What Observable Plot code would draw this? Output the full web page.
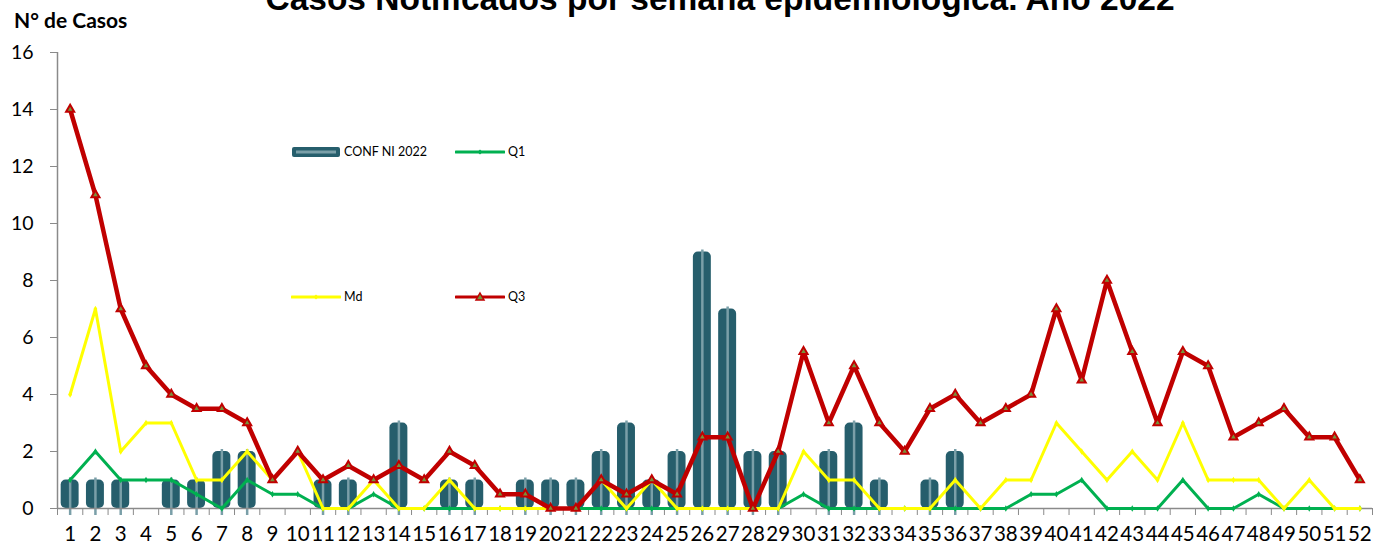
<!DOCTYPE html>
<html>
<head>
<meta charset="utf-8">
<script src="https://cdn.jsdelivr.net/npm/d3@7"></script>
<script src="https://cdn.jsdelivr.net/npm/@observablehq/plot@0.6"></script>
<style>
  html, body { margin: 0; padding: 0; background: #fff; }
  #wrap { position: relative; width: 1374px; height: 546px; overflow: hidden; }
  #title { position: absolute; left: 0; width: 1440px; top: -18px; text-align: center;
    font-family: "Liberation Sans", Arial, sans-serif; font-weight: bold; font-size: 33.5px; line-height: 33px; color: #000; }
  #ylab { position: absolute; left: 14px; top: 8px; font-family: Lato, "Open Sans", sans-serif;
    font-weight: bold; font-size: 21px; line-height: 24px; color: #000; }
  .leg { position: absolute; font-family: Lato, "Open Sans", sans-serif; font-size: 12.5px; line-height: 14px; color: #000; display: flex; align-items: center; }
  .leg svg { margin-right: 3px; }
</style>
</head>
<body>
<div id="wrap">
  <div id="chart"></div>
  <div id="title">Casos Notificados por semana epidemiológica. Año 2022</div>
  <div id="ylab">N° de Casos</div>
</div>
<script>
const weeks = [1,2,3,4,5,6,7,8,9,10,11,12,13,14,15,16,17,18,19,20,21,22,23,24,25,26,
  27,28,29,30,31,32,33,34,35,36,37,38,39,40,41,42,43,44,45,46,47,48,49,50,51,52];
const conf = [1,1,1,0,1,1,2,2,0,0, 1,1,0,3,0,1,1,0,1,1, 1,2,3,1,2,9,7,2,2,0,
  2,3,1,0,1,2,0,0,0,0, 0,0,0,0,0,0,0,0,0,0,0,0];
const q1 = [1,2,1,1,1,0.5,0,1,0.5,0.5, 0,0,0.5,0,0,0,0,0,0,0, 0,0,0,0,0,0,0,0,0,0.5,
  0,0,0,0,0,0,0,0,0.5,0.5, 1,0,0,0,1,0,0,0.5,0,0,0,0];
const md = [4,7,2,3,3,1,1,2,1,2, 0,0,1,0,0,1,0,0,0,0, 0,1,0,1,0,0,0,0,0,2,
  1,1,0,0,0,1,0,1,1,3, 2,1,2,1,3,1,1,1,0,1,0,0];
const q3 = [14,11,7,5,4,3.5,3.5,3,1,2, 1,1.5,1,1.5,1,2,1.5,0.5,0.5,0, 0,1,0.5,1,0.5,2.5,2.5,0,2,5.5,
  3,5,3,2,3.5,4,3,3.5,4,7, 4.5,8,5.5,3,5.5,5,2.5,3,3.5,2.5,2.5,1];
const yTicks = [0,2,4,6,8,10,12,14,16];
const seriesNames = ["CONF NI 2022", "Q1", "Md", "Q3"];
const colors = {bar: "#265e6c", barHi: "#7a9fa8", q1: "#00b050", md: "#ffff00", q3: "#c00000", tri: "#77933c", axis: "#8a8a8a"};

const data = weeks.map((w, i) => ({week: w, conf: conf[i], q1: q1[i], md: md[i], q3: q3[i]}));
const bars = data.filter(d => d.conf > 0);
const boundaries = [0, ...weeks].map(w => w + 0.5);
const half = 0.355;

const chart = Plot.plot({
  width: 1374,
  height: 546,
  marginLeft: 57,
  marginRight: 2,
  marginTop: 52,
  marginBottom: 38,
  style: {background: "transparent", fontFamily: "Lato, 'Open Sans', sans-serif", color: "#000"},
  x: {type: "linear", domain: [0.5, 52.5]},
  y: {domain: [0, 16]},
  marks: [
    Plot.rectY(bars, {x1: d => d.week - half, x2: d => d.week + half, y1: 0, y2: "conf", fill: colors.bar, rx: 5}),
    Plot.ruleX(bars, {x: "week", y1: 0, y2: "conf", stroke: colors.barHi, strokeWidth: 2.5, insetTop: 7, insetBottom: 2}),
    Plot.ruleY([0], {stroke: colors.axis, strokeWidth: 1.5}),
    Plot.ruleX([0.5], {stroke: colors.axis, strokeWidth: 1.5}),
    Plot.axisY({ticks: yTicks, tickSize: 7, tickPadding: 17, stroke: colors.axis, fontSize: 19.5, tickFormat: d => d, label: null}),
    Plot.axisX({ticks: boundaries, tickSize: 7, stroke: colors.axis, tickFormat: () => "", label: null}),
    Plot.axisX({ticks: weeks, tickSize: 0, tickPadding: 18, fontSize: 20.5, tickFormat: d => d, label: null}),
    Plot.line(data, {x: "week", y: "q1", stroke: colors.q1, strokeWidth: 3}),
    Plot.dot(data, {x: "week", y: "q1", fill: colors.q1, r: 2, symbol: "diamond"}),
    Plot.line(data, {x: "week", y: "md", stroke: colors.md, strokeWidth: 3}),
    Plot.dot(data, {x: "week", y: "md", fill: colors.md, r: 2, symbol: "diamond"}),
    Plot.line(data, {x: "week", y: "q3", stroke: colors.q3, strokeWidth: 4.5}),
    Plot.dot(data, {x: "week", y: "q3", fill: colors.tri, stroke: colors.q3, strokeWidth: 2, r: 3, symbol: "triangle"})
  ]
});
document.getElementById("chart").appendChild(chart);

// legend
const wrap = document.getElementById("wrap");
const legendItems = [
  {name: seriesNames[0], left: 291, top: 145, kind: "bar"},
  {name: seriesNames[1], left: 455, top: 145, kind: "q1"},
  {name: seriesNames[2], left: 291, top: 290, kind: "md"},
  {name: seriesNames[3], left: 455, top: 290, kind: "q3"}
];
for (const it of legendItems) {
  const div = document.createElement("div");
  div.className = "leg";
  div.style.left = it.left + "px";
  div.style.top = it.top + "px";
  let sw;
  if (it.kind === "bar") {
    sw = `<svg width="50" height="14"><rect x="1" y="2" width="48" height="10" rx="2" fill="${colors.bar}"/><rect x="5" y="5.5" width="40" height="3" fill="${colors.barHi}"/></svg>`;
  } else if (it.kind === "q3") {
    sw = `<svg width="50" height="14"><line x1="1" y1="7" x2="49" y2="7" stroke="${colors.q3}" stroke-width="3" stroke-linecap="round"/><path d="M25,3 L29,10 L21,10 Z" fill="${colors.tri}" stroke="${colors.q3}" stroke-width="1.5"/></svg>`;
  } else {
    const c = colors[it.kind];
    sw = `<svg width="50" height="14"><line x1="1" y1="7" x2="49" y2="7" stroke="${c}" stroke-width="3" stroke-linecap="round"/><path d="M25,4.5 L27.5,7 L25,9.5 L22.5,7 Z" fill="${c}"/></svg>`;
  }
  div.innerHTML = sw + `<span>${it.name}</span>`;
  wrap.appendChild(div);
}
</script>
</body>
</html>
